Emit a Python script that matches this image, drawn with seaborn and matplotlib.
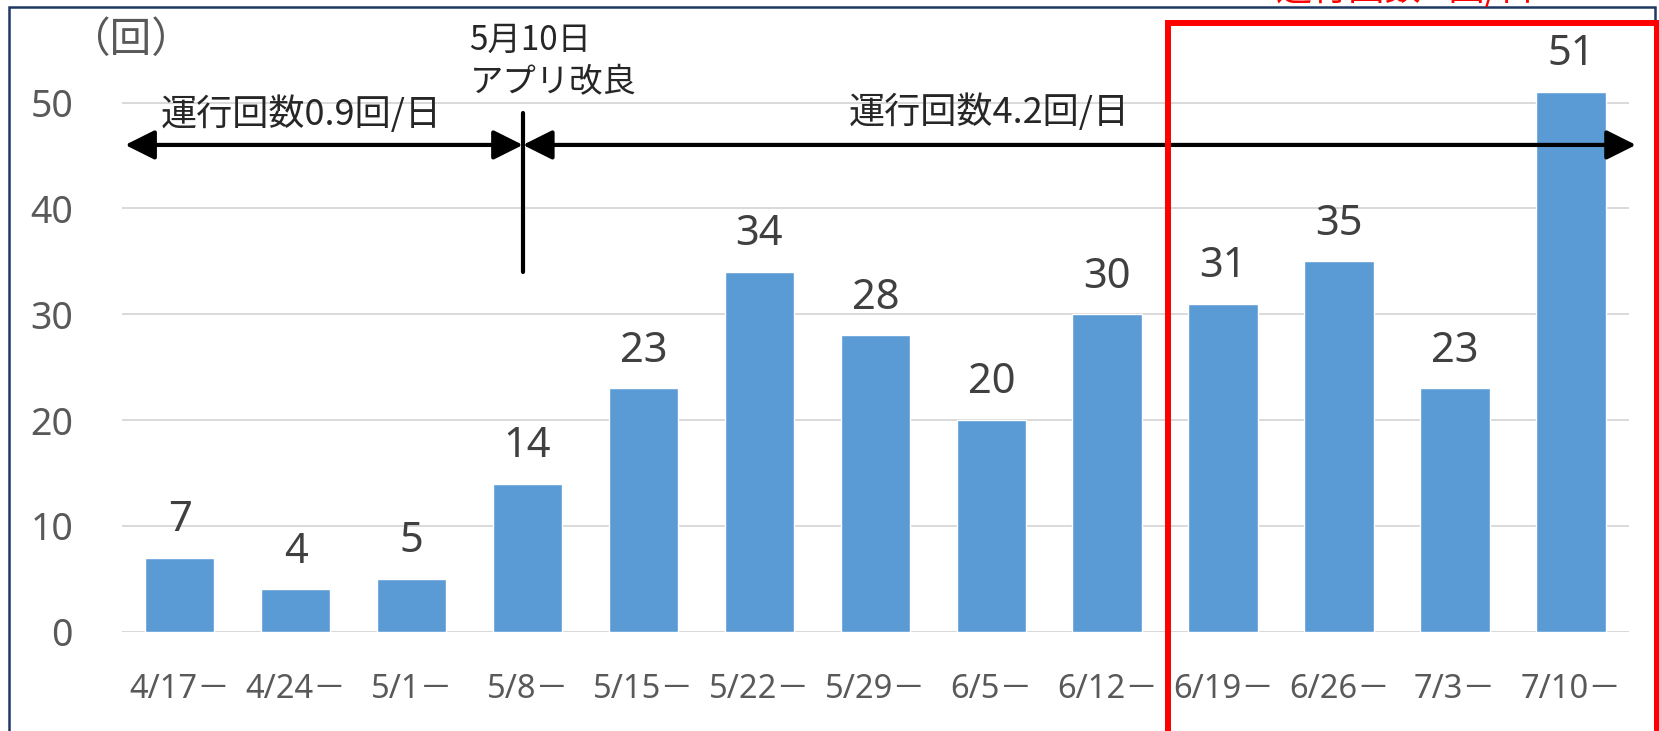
import matplotlib
matplotlib.use("Agg")
import matplotlib.pyplot as plt
from matplotlib.patches import Rectangle
import seaborn as sns

# weekly counts
week_labels = ["4/17－", "4/24－", "5/1－", "5/8－", "5/15－", "5/22－", "5/29－",
               "6/5－", "6/12－", "6/19－", "6/26－", "7/3－", "7/10－"]
counts = [7, 4, 5, 14, 23, 34, 28, 20, 30, 31, 35, 23, 51]

sns.set_style("white")
jp = "Noto Sans CJK JP"
plt.rcParams["font.family"] = ["Noto Sans", jp, "DejaVu Sans"]

W, H = 1659, 731
fig = plt.figure(figsize=(W / 100, H / 100), dpi=100)
ax = fig.add_axes([121.7 / W, 1 - 631.7 / H, (1629 - 121.7) / W, 582 / H])

sns.barplot(x=week_labels, y=counts, color="#5B9BD5", saturation=1, width=0.6, ax=ax)

ax.set_ylim(0, 55)
ax.set_xlim(-0.5, 12.5)
ax.set_yticks(range(0, 51, 10))
ax.yaxis.grid(True, color="#D9D9D9", lw=1.4)
ax.set_axisbelow(True)
for s in ax.spines.values():
    s.set_visible(False)
ax.axhline(0, color="#D9D9D9", lw=1.4, zorder=0)
ax.set_xlabel("")
ax.set_ylabel("")
ax.tick_params(axis="y", length=0, pad=35, labelsize=27, labelcolor="#595959")
ax.tick_params(axis="x", length=0, pad=30, labelsize=23.5, labelcolor="#595959")

ax.bar_label(ax.containers[0], padding=12, fontsize=30, color="#404040")

# period arrows
arrow = dict(arrowstyle="<|-|>,head_length=1.8,head_width=0.9", color="black", lw=3,
             shrinkA=0, shrinkB=0)
ax.annotate("", xy=(-0.47, 46), xytext=(2.96, 46), arrowprops=arrow, annotation_clip=False)
ax.annotate("", xy=(2.96, 46), xytext=(12.56, 46), arrowprops=arrow, annotation_clip=False)
ax.plot([2.96, 2.96], [34, 49], color="black", lw=3, clip_on=False)

ax.text(1.05, 48.9, "運行回数0.9回/日", family=jp, fontsize=26, ha="center", va="center")
ax.text(6.98, 49.1, "運行回数4.2回/日", family=jp, fontsize=26, ha="center", va="center")
ax.text(2.5, 53.9, "5月10日\nアプリ改良", family=jp, fontsize=24, ha="left", va="center",
        linespacing=1.25, clip_on=False)

fig.text(130 / W, 1 - 41 / H, "（回）", family=jp, fontsize=30, color="#595959",
         ha="center", va="center")

# outer frame and highlighted period
fig.patches.append(Rectangle((9 / W, -0.05), (1655 - 9) / W, 1.05 - 7 / H,
                             transform=fig.transFigure, fill=False, ec="#1F3864", lw=1.8))
fig.patches.append(Rectangle((1168 / W, -0.05), (1657 - 1168) / W, 1.05 - 23 / H,
                             transform=fig.transFigure, fill=False, ec="#FF0000", lw=4.3))
fig.text(1405 / W, 1 - 8 / H, "運行回数 5回/日", family=jp, fontsize=26, color="#FF0000",
         ha="center", va="bottom")

fig.savefig("out.png", dpi=100)
